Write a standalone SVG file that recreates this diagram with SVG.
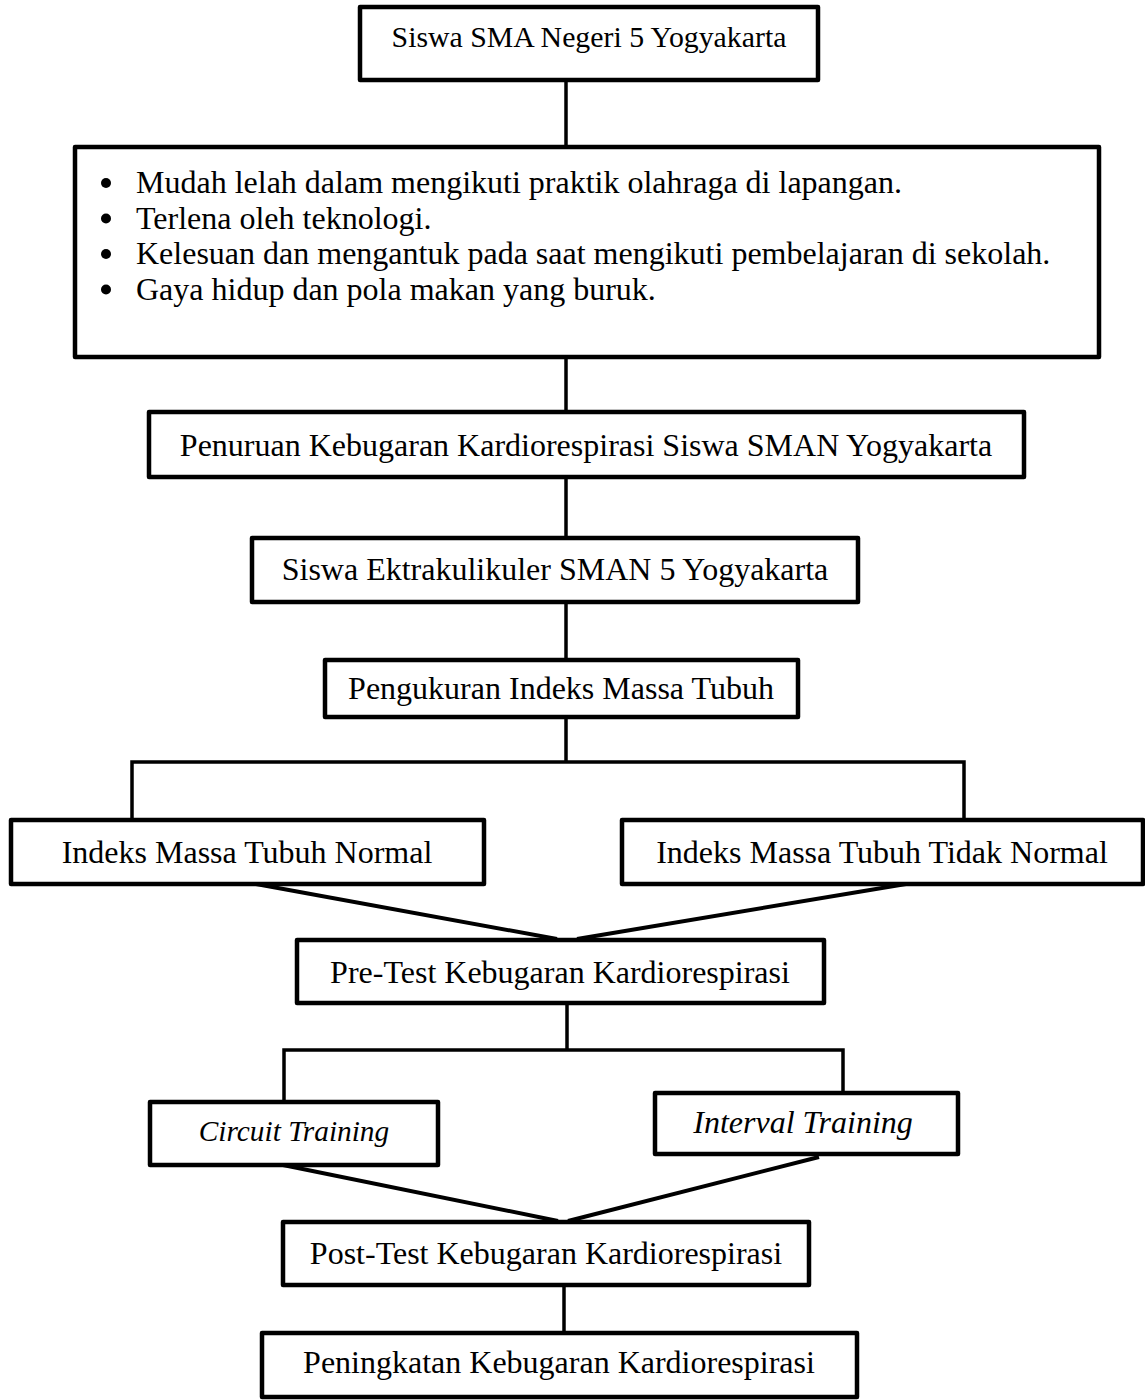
<svg xmlns="http://www.w3.org/2000/svg" width="1145" height="1400" viewBox="0 0 1145 1400">
<style>
.box{fill:#fff;stroke:#000;stroke-width:4.5;stroke-linejoin:round}
.ln{stroke:#000;stroke-width:3.5;fill:none}
.t{font-family:"Liberation Serif","Times New Roman",serif;font-size:32px;fill:#000;text-anchor:middle}
.b{font-family:"Liberation Serif","Times New Roman",serif;font-size:32px;fill:#000}
.i{font-style:italic}
</style>
<rect width="1145" height="1400" fill="#fff"/>
<g id="connectors">
<line class="ln" x1="566" y1="80" x2="566" y2="147"/>
<line class="ln" x1="566" y1="357" x2="566" y2="412"/>
<line class="ln" x1="566" y1="477" x2="566" y2="538"/>
<line class="ln" x1="566" y1="602" x2="566" y2="660"/>
<path class="ln" d="M566 717 V762 M132 820 V762 H964 V820"/>
<line class="ln" x1="256" y1="884" x2="557" y2="939" style="stroke-width:4"/>
<line class="ln" x1="906" y1="884" x2="577" y2="939" style="stroke-width:4"/>
<path class="ln" d="M567 1003 V1050 M284 1102 V1050 H843 V1093"/>
<line class="ln" x1="283" y1="1165" x2="558" y2="1221" style="stroke-width:4"/>
<line class="ln" x1="819" y1="1157" x2="568" y2="1221" style="stroke-width:4"/>
<line class="ln" x1="564" y1="1285" x2="564" y2="1333"/>
</g>
<g id="n1"><rect class="box" x="360" y="7" width="458" height="73"/><text class="t" x="589" y="47" style="font-size:29.8px">Siswa SMA Negeri 5 Yogyakarta</text></g>
<g id="n2"><rect class="box" x="75" y="147" width="1024" height="210"/>
<circle cx="106" cy="183" r="5"/><circle cx="106" cy="218.5" r="5"/><circle cx="106" cy="254" r="5"/><circle cx="106" cy="289.5" r="5"/>
<text class="b" x="136" y="193">Mudah lelah dalam mengikuti praktik olahraga di lapangan.</text>
<text class="b" x="136" y="228.5">Terlena oleh teknologi.</text>
<text class="b" x="136" y="264">Kelesuan dan mengantuk pada saat mengikuti pembelajaran di sekolah.</text>
<text class="b" x="136" y="299.5">Gaya hidup dan pola makan yang buruk.</text></g>
<g id="n3"><rect class="box" x="149" y="412" width="875" height="65"/><text class="t" x="586" y="456">Penuruan Kebugaran Kardiorespirasi Siswa SMAN Yogyakarta</text></g>
<g id="n4"><rect class="box" x="252" y="538" width="606" height="64"/><text class="t" x="555" y="580">Siswa Ektrakulikuler SMAN 5 Yogyakarta</text></g>
<g id="n5"><rect class="box" x="325" y="660" width="473" height="57"/><text class="t" x="561" y="699">Pengukuran Indeks Massa Tubuh</text></g>
<g id="n6"><rect class="box" x="11" y="820" width="473" height="64"/><text class="t" x="247" y="863">Indeks Massa Tubuh Normal</text></g>
<g id="n7"><rect class="box" x="622" y="820" width="521" height="64"/><text class="t" x="882" y="863">Indeks Massa Tubuh Tidak Normal</text></g>
<g id="n8"><rect class="box" x="297" y="940" width="527" height="63"/><text class="t" x="560" y="983">Pre-Test Kebugaran Kardiorespirasi</text></g>
<g id="n9"><rect class="box" x="150" y="1102" width="288" height="63"/><text class="t i" x="294" y="1141" style="font-size:29.33px">Circuit Training</text></g>
<g id="n10"><rect class="box" x="655" y="1093" width="303" height="61"/><text class="t i" x="803" y="1133">Interval Training</text></g>
<g id="n11"><rect class="box" x="283" y="1222" width="526" height="63"/><text class="t" x="546" y="1264">Post-Test Kebugaran Kardiorespirasi</text></g>
<g id="n12"><rect class="box" x="262" y="1333" width="595" height="64"/><text class="t" x="559" y="1373">Peningkatan Kebugaran Kardiorespirasi</text></g>
</svg>
